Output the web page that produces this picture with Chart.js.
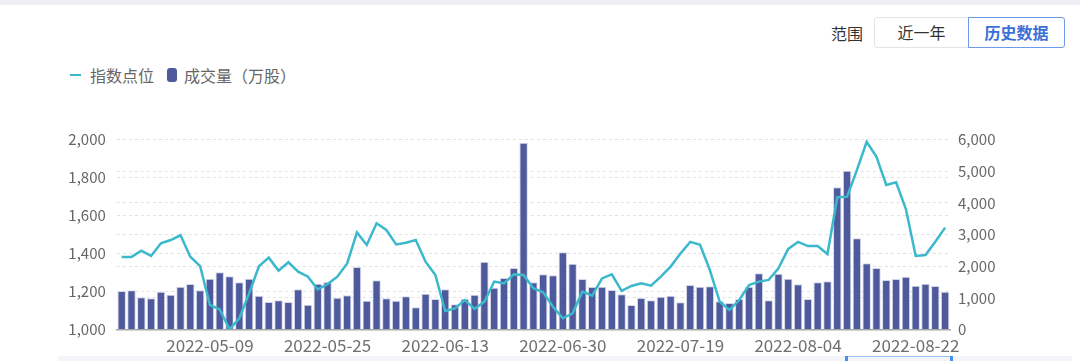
<!DOCTYPE html>
<html>
<head>
<meta charset="utf-8">
<script src="https://cdn.jsdelivr.net/npm/chart.js@4"></script>
<style>
  html, body { margin: 0; padding: 0; background: #fff; }
  body { width: 1080px; height: 361px; position: relative; overflow: hidden;
         font-family: "Noto Sans CJK SC", "Noto Sans", sans-serif; color: #666; }
  .topbar { position: absolute; left: 0; top: 0; width: 1080px; height: 5px; background: #eef0f5; }
  .range-label { position: absolute; left: 831px; top: 21px; font-size: 16px; color: #333; line-height: 24px; }
  .btn { position: absolute; top: 17px; height: 29px; line-height: 29px; text-align: center; font-size: 16px;
         border: 1px solid #e2e4ea; background: #fff; color: #333; box-sizing: content-box; }
  .btn.on { border-color: #6e98e8; color: #3b6fd8; font-weight: bold; border-radius: 0 3px 3px 0; }
  .btn.first { border-radius: 3px 0 0 3px; }
  .legend { position: absolute; left: 70px; top: 63px; font-size: 16px; color: #666; display: flex; align-items: center; }
  .lg-line { width: 11px; height: 2px; background: #3cb8cc; margin-right: 9px; }
  .lg-bar { width: 10px; height: 14px; background: #4e5a9c; border-radius: 3px; margin: 0 7px 0 13px; }
  .wrap { position: absolute; left: 0; top: 110px; width: 1080px; height: 251px; }
  .slider { position: absolute; left: 58px; top: 356px; width: 1014px; height: 5px; background: #f4f5f8; }
  .handle { position: absolute; top: 356px; width: 3px; height: 5px; background: #4a90f0; }
  .handle-bar { position: absolute; left: 846px; top: 356px; width: 106px; height: 1px; background: #9cc2f5; }
</style>
</head>
<body>
<div class="topbar"></div>
<div class="range-label">范围</div>
<div class="btn first" style="left:874px;width:93px;">近一年</div>
<div class="btn on" style="left:968px;width:95px;">历史数据</div>
<div class="legend">
  <span class="lg-line"></span><span>指数点位</span>
  <span class="lg-bar"></span><span>成交量（万股）</span>
</div>
<div class="slider"></div>
<div class="handle-bar"></div>
<div class="handle" style="left:845px"></div>
<div class="handle" style="left:950px"></div>
<div class="wrap"><canvas id="c"></canvas></div>
<script>
const dates = [
  '2022-04-21','2022-04-22','2022-04-25','2022-04-26','2022-04-27','2022-04-28','2022-04-29','2022-05-05','2022-05-06','2022-05-09',
  '2022-05-10','2022-05-11','2022-05-12','2022-05-13','2022-05-16','2022-05-17','2022-05-18','2022-05-19','2022-05-20','2022-05-23',
  '2022-05-24','2022-05-25','2022-05-26','2022-05-27','2022-05-30','2022-05-31','2022-06-01','2022-06-02','2022-06-06','2022-06-07',
  '2022-06-08','2022-06-09','2022-06-10','2022-06-13','2022-06-14','2022-06-15','2022-06-16','2022-06-17','2022-06-20','2022-06-22',
  '2022-06-23','2022-06-24','2022-06-27','2022-06-28','2022-06-29','2022-06-30','2022-07-01','2022-07-04','2022-07-05','2022-07-06',
  '2022-07-07','2022-07-08','2022-07-11','2022-07-13','2022-07-14','2022-07-15','2022-07-18','2022-07-19','2022-07-20','2022-07-21',
  '2022-07-22','2022-07-25','2022-07-26','2022-07-27','2022-07-28','2022-07-29','2022-08-01','2022-08-02','2022-08-03','2022-08-04',
  '2022-08-05','2022-08-08','2022-08-09','2022-08-10','2022-08-11','2022-08-12','2022-08-15','2022-08-16','2022-08-17','2022-08-18',
  '2022-08-19','2022-08-22','2022-08-23','2022-08-24','2022-08-25'
];

// 指数点位 (left axis)
const indexPoints = [
  1382,1382,1415,1387,1454,1471,1496,1383,1334,1129,
  1106,1001,1059,1190,1333,1378,1310,1354,1304,1278,
  1211,1239,1278,1348,1511,1445,1559,1524,1448,1457,
  1471,1357,1287,1097,1111,1155,1108,1147,1252,1243,
  1290,1287,1217,1196,1120,1059,1085,1199,1178,1269,
  1290,1203,1229,1243,1231,1278,1331,1400,1461,1446,
  1313,1147,1103,1155,1234,1252,1261,1322,1424,1461,
  1439,1439,1397,1696,1699,1839,1988,1909,1761,1775,
  1634,1387,1392,1462,1536
];

// 成交量（万股） (right axis)
const volume = [
  1216,1238,1017,985,1194,1100,1352,1437,1238,1605,
  1806,1680,1490,1605,1068,868,922,868,1269,783,
  1447,1500,1005,1079,1974,910,1553,985,910,1048,
  700,1131,963,1269,795,974,1100,2142,1321,1627,
  1942,5900,1490,1743,1711,2438,2079,1595,1342,1352,
  1247,1110,774,995,922,1037,1068,858,1405,1352,
  1363,890,837,963,1352,1774,922,1764,1605,1426,
  963,1490,1521,4490,5015,2880,2090,1942,1563,1595,
  1668,1383,1447,1374,1194
];

const leftTicks = [1000, 1200, 1400, 1600, 1800, 2000];
const rightTicks = [0, 1000, 2000, 3000, 4000, 5000, 6000];

const fontFam = '"Noto Sans CJK SC", "Noto Sans", sans-serif';
const tickFont = { family: fontFam, size: 15 };
const fmt = v => Number(v).toLocaleString('en-US');

new Chart(document.getElementById('c'), {
  data: {
    labels: dates,
    datasets: [
      {
        type: 'line',
        label: '指数点位',
        data: indexPoints,
        yAxisID: 'yL',
        borderColor: '#3cb8cc',
        borderWidth: 2.5,
        pointRadius: 0,
        tension: 0,
        order: 0
      },
      {
        type: 'bar',
        label: '成交量（万股）',
        data: volume,
        yAxisID: 'yR',
        backgroundColor: '#4e5a9c',
        borderColor: '#d4d7ea',
        borderWidth: 1,
        barPercentage: 0.86,
        categoryPercentage: 1,
        order: 1
      }
    ]
  },
  options: {
    responsive: true,
    maintainAspectRatio: false,
    animation: false,
    layout: { padding: { top: 29.5, left: 0, right: 0, bottom: 0 } },
    plugins: { legend: { display: false }, tooltip: { enabled: false } },
    scales: {
      x: {
        offset: true,
        grid: { display: false, drawTicks: false },
        border: { display: true, color: '#a8a8a8', width: 1.5 },
        ticks: {
          autoSkip: false, maxRotation: 0, padding: 6, color: '#6f6f6f',
          font: { family: fontFam, size: 17 },
          callback: function (v, i) { return i % 12 === 9 ? dates[i] : ''; }
        },
        afterFit: s => { s.height = 31.5; }
      },
      yL: {
        position: 'left',
        min: 1000, max: 2000,
        afterBuildTicks: s => { s.ticks = leftTicks.map(v => ({ value: v })); },
        grid: { color: '#e2e2e2', drawTicks: false },
        border: { display: false, dash: [3, 3] },
        ticks: { padding: 11, color: '#666', font: tickFont, callback: fmt },
        afterFit: s => { s.width = 116.8; }
      },
      yR: {
        position: 'right',
        min: 0, max: 6000,
        afterBuildTicks: s => { s.ticks = rightTicks.map(v => ({ value: v })); },
        grid: { color: '#e2e2e2', drawTicks: false },
        border: { display: false, dash: [3, 3] },
        ticks: { padding: 8, color: '#666', font: tickFont, callback: fmt },
        afterFit: s => { s.width = 130; }
      }
    }
  }
});
</script>
</body>
</html>
